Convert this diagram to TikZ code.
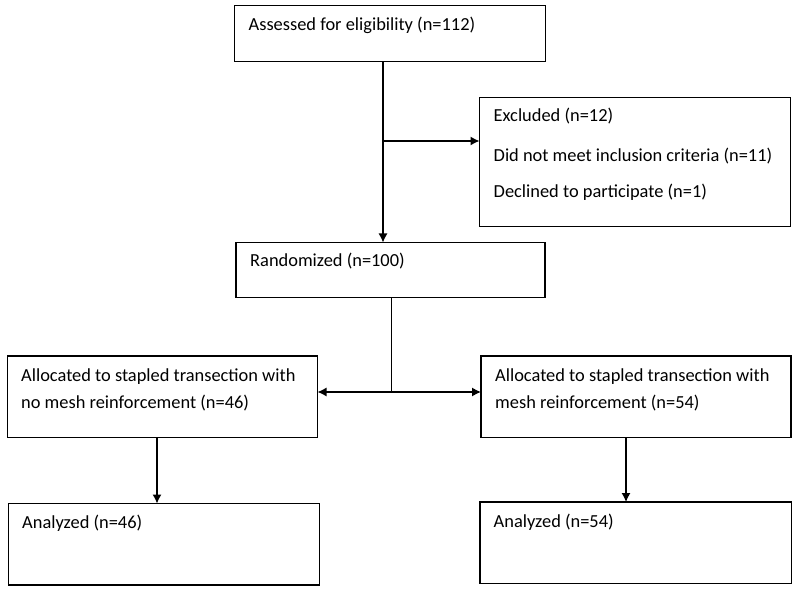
\documentclass[tikz,border=0pt]{standalone}
\usepackage{fontspec}
\setmainfont{Carlito}
\usetikzlibrary{arrows.meta}

\tikzset{
    box/.style={draw=black, line width=1.2pt, anchor=north west,
                inner sep=0pt, outer sep=0pt},
    txt/.style={anchor=base west, inner sep=0pt,
                font=\fontsize{18.4pt}{22pt}\selectfont},
    arr/.style={->, >={Latex[length=9pt,width=9pt]}, line width=1.2pt},
    ln/.style={line width=1.2pt}
}

\begin{document}
\begin{tikzpicture}[x=1pt, y=-1pt]
    \useasboundingbox (0,0) rectangle (800,593);
    % Assessed
    \node[box, minimum width=311pt, minimum height=56pt] (assess) at (234.5,5.5) {};
    \node[txt] (assess-t) at ([shift={(14pt,-25pt)}]assess.north west)
        {Assessed for eligibility (n=112)};
    % Excluded
    \node[box, minimum width=311pt, minimum height=129pt] (excl) at (479.5,97.5) {};
    \node[txt] (excl-t1) at ([shift={(14pt,-24.5pt)}]excl.north west)
        {Excluded (n=12)};
    \node[txt] (excl-t2) at ([shift={(14pt,-64pt)}]excl.north west)
        {Did not meet inclusion criteria (n=11)};
    \node[txt] (excl-t3) at ([shift={(14pt,-100.5pt)}]excl.north west)
        {Declined to participate (n=1)};
    % Randomized
    \node[box, minimum width=309pt, minimum height=55pt] (rand) at (236,242.5) {};
    \node[txt] (rand-t) at ([shift={(14pt,-24.5pt)}]rand.north west)
        {Randomized (n=100)};
    % Allocated
    \node[box, minimum width=310pt, minimum height=81.5pt] (alloc-l) at (7.5,356) {};
    \node[txt] (alloc-l-t1) at ([shift={(13.5pt,-25.5pt)}]alloc-l.north west)
        {Allocated to stapled transection with};
    \node[txt] (alloc-l-t2) at ([shift={(13.5pt,-52pt)}]alloc-l.north west)
        {no mesh reinforcement (n=46)};
    \node[box, minimum width=310pt, minimum height=81.5pt] (alloc-r) at (481,356) {};
    \node[txt] (alloc-r-t1) at ([shift={(14pt,-25.5pt)}]alloc-r.north west)
        {Allocated to stapled transection with};
    \node[txt] (alloc-r-t2) at ([shift={(14pt,-52pt)}]alloc-r.north west)
        {mesh reinforcement (n=54)};
    % Analyzed
    \node[box, minimum width=311pt, minimum height=81.5pt] (anal-l) at (8.5,503.5) {};
    \node[txt] (anal-l-t) at ([shift={(13.5pt,-25pt)}]anal-l.north west)
        {Analyzed (n=46)};
    \node[box, minimum width=311.5pt, minimum height=81.5pt] (anal-r) at (480,502) {};
    \node[txt] (anal-r-t) at ([shift={(13.5pt,-25pt)}]anal-r.north west)
        {Analyzed (n=54)};
    % connectors
    \coordinate (split1) at (383,141);
    \coordinate (split2) at (391.5,392);
    \coordinate (down-l) at (157,0);
    \coordinate (down-r) at (626,0);
    \draw[arr] (split1 |- assess.south) -- (split1 |- rand.north);
    \draw[arr] (split1) -- (split1 -| excl.west);
    \draw[ln] (split2 |- rand.south) -- (split2);
    \draw[arr] (split2) -- (split2 -| alloc-l.east);
    \draw[arr] (split2) -- (split2 -| alloc-r.west);
    \draw[arr] (down-l |- alloc-l.south) -- (down-l |- anal-l.north);
    \draw[arr] (down-r |- alloc-r.south) -- (down-r |- anal-r.north);
\end{tikzpicture}
\end{document}
